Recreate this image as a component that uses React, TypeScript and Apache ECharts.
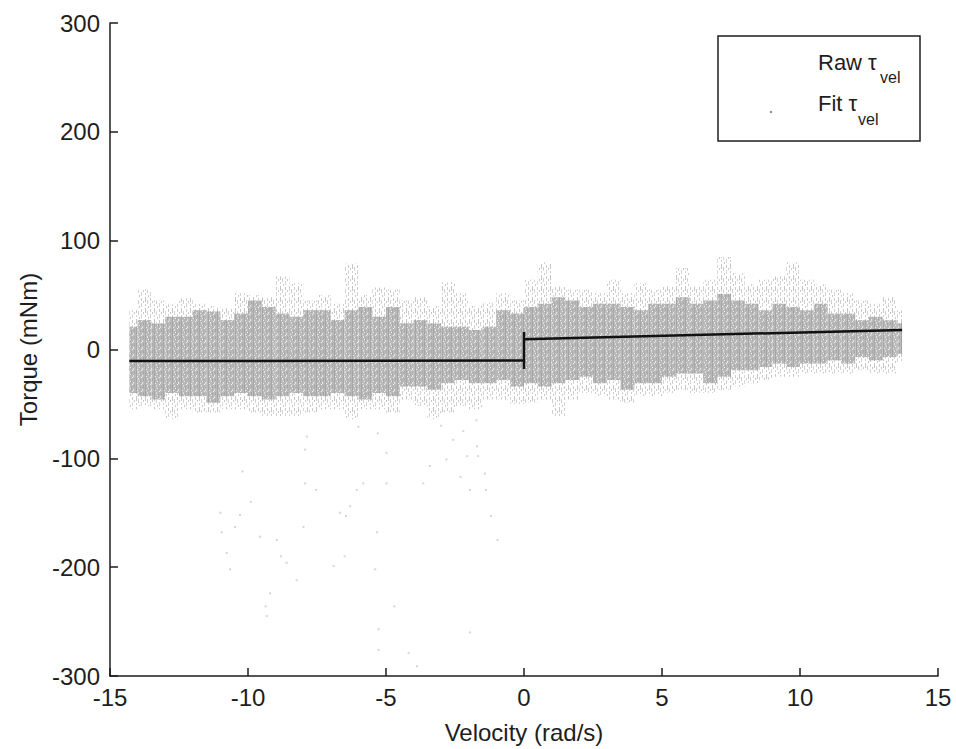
import React, { useEffect, useRef } from "react";
import * as echarts from "echarts";

// ---------- data ----------
const xTicks = [-15, 15, 5]; // min, max, interval
const yTicks = [-300, 300, 100];

// velocity bin edges of the raw-torque cloud (rad/s)
const leftEdges = [-14.3, -14, -13.5, -13, -12.5, -12, -11.5, -11, -10.5, -10, -9.5, -9, -8.5, -8, -7.5, -7, -6.5, -6, -5.5, -5, -4.5, -4, -3.5, -3, -2.5, -2, -1.5, -1, -0.5, 0];
const rightEdges = [0, 0.5, 1, 1.5, 2, 2.5, 3, 3.5, 4, 4.5, 5, 5.5, 6, 6.5, 7, 7.5, 8, 8.5, 9, 9.5, 10, 10.5, 11, 11.5, 12, 12.5, 13, 13.5, 13.7];

// raw torque cloud per bin (mNm): sparse low, dense low, dense high, sparse high
const leftEnvLo = [-55, -52, -55, -64, -55, -58, -58, -55, -55, -58, -61, -61, -61, -58, -55, -55, -64, -55, -55, -58, -46, -52, -64, -58, -52, -55, -46, -46, -50];
const leftCoreLo = [-40, -43, -46, -40, -43, -43, -49, -43, -40, -43, -46, -43, -40, -43, -43, -40, -43, -46, -40, -43, -34, -34, -37, -31, -28, -31, -31, -28, -34];
const leftCoreHi = [21, 27, 24, 30, 30, 36, 35, 27, 33, 45, 39, 33, 30, 36, 36, 27, 36, 39, 30, 39, 24, 27, 24, 21, 21, 18, 21, 36, 33];
const leftEnvHi = [36, 55, 45, 42, 47, 42, 40, 38, 52, 50, 48, 67, 61, 45, 50, 42, 79, 50, 57, 55, 45, 48, 40, 62, 52, 40, 43, 52, 45];

const rightEnvLo = [-49, -46, -61, -46, -40, -43, -46, -49, -43, -43, -40, -37, -40, -40, -37, -34, -31, -28, -25, -25, -22, -22, -22, -22, -19, -22, -22, -12];
const rightCoreLo = [-31, -34, -31, -28, -25, -31, -28, -37, -31, -31, -25, -22, -22, -31, -25, -19, -19, -16, -13, -16, -13, -13, -10, -13, -7, -10, -7, -4];
const rightCoreHi = [39, 42, 48, 45, 39, 42, 42, 39, 36, 42, 42, 48, 42, 45, 51, 45, 42, 36, 42, 39, 36, 42, 33, 33, 27, 30, 27, 24];
const rightEnvHi = [64, 80, 58, 55, 55, 52, 64, 52, 61, 55, 58, 75, 58, 64, 85, 70, 60, 64, 67, 80, 64, 60, 55, 52, 45, 42, 48, 36];

// scattered outliers below the cloud
const outlierVel = [-7.87, -7.93, -10.2, -10.29, -10.47, -10.95, -10.77, -10.65, -9.57, -8.96, -8.6, -8.8, -8.24, -9.2, -9.32, -9.36, -7.99, -6.9, -6.5, -6.45, -6.3, -6.06, -5.82, -5.33, -5.39, -4.98, -4.98, -5.3, -6.0, -3.65, -3.41, -2.81, -2.57, -1.72, -1.7, -1.66, -1.42, -1.38, -1.2, -0.96, -1.96, -2.06, -2.3, -5.27, -4.18, -3.88, -5.27, -7.93, -7.53, -6.67, -4.7, -1.96, -9.9, -11.0, -3.0, -2.2];
const outlierTorque = [-80, -92, -112, -152, -163, -168, -187, -202, -172, -175, -196, -190, -212, -224, -245, -236, -163, -199, -190, -153, -144, -129, -123, -168, -202, -123, -95, -77, -71, -123, -107, -101, -83, -65, -89, -98, -114, -129, -153, -175, -129, -98, -117, -276, -279, -291, -257, -123, -129, -150, -236, -260, -140, -150, -70, -75];

// fitted model
const fitVel = [-14.3, 0, 0, 0, 0, 13.7];
const fitTorque = [-10.6, -10.2, -18, 16, 9.5, 17.9];

const xTitle = "Velocity (rad/s)";
const yTitle = "Torque (mNm)";
const legendRaw = ["Raw τ", "vel"];
const legendFit = ["Fit τ", "vel"];

// ---------- styles ----------
const FONT = "'Liberation Sans', Arial, Helvetica, sans-serif";
const INK = "#1e1e1e";

const svgUrl = (s: string) => "data:image/svg+xml;charset=utf-8," + encodeURIComponent(s);
const corePattern = svgUrl(
  "<svg xmlns='http://www.w3.org/2000/svg' width='9' height='7'>" +
    "<rect width='9' height='7' fill='#b9b9b9'/>" +
    "<rect x='1' width='1' height='7' fill='#a6a6a6'/>" +
    "<rect x='3' y='0' width='1' height='2' fill='#dedede'/>" +
    "<rect x='4' y='3' width='1' height='1' fill='#f0f0f0'/>" +
    "<rect x='5' y='1' width='1' height='4' fill='#aaaaaa'/>" +
    "<rect x='7' y='4' width='1' height='2' fill='#e2e2e2'/>" +
    "<rect x='8' y='0' width='1' height='3' fill='#a8a8a8'/>" +
    "<rect x='2' y='5' width='1' height='1' fill='#ececec'/>" +
    "<rect x='6' y='6' width='1' height='1' fill='#f2f2f2'/>" +
    "</svg>"
);
const envPattern = svgUrl(
  "<svg xmlns='http://www.w3.org/2000/svg' width='9' height='11'>" +
    "<rect x='1' y='0' width='1' height='5' fill='#c6c6c6'/>" +
    "<rect x='1' y='7' width='1' height='2' fill='#cfcfcf'/>" +
    "<rect x='3' y='3' width='1' height='4' fill='#d0d0d0'/>" +
    "<rect x='4' y='9' width='1' height='2' fill='#c9c9c9'/>" +
    "<rect x='6' y='1' width='1' height='3' fill='#cbcbcb'/>" +
    "<rect x='6' y='6' width='1' height='4' fill='#d4d4d4'/>" +
    "<rect x='8' y='4' width='1' height='2' fill='#c8c8c8'/>" +
    "</svg>"
);

function buildBins() {
  const rows: number[][] = [];
  for (let i = 0; i < leftEdges.length - 1; i++) {
    rows.push([leftEdges[i], leftEdges[i + 1], leftEnvLo[i], leftCoreLo[i], leftCoreHi[i], leftEnvHi[i]]);
  }
  for (let i = 0; i < rightEdges.length - 1; i++) {
    rows.push([rightEdges[i], rightEdges[i + 1], rightEnvLo[i], rightCoreLo[i], rightCoreHi[i], rightEnvHi[i]]);
  }
  return rows;
}

export default function App() {
  const ref = useRef<HTMLDivElement>(null);

  useEffect(() => {
    if (!ref.current) return;
    const chart = echarts.init(ref.current, undefined, { renderer: "svg" });

    const bins = buildBins();
    const outliers = outlierVel.map((v, i) => [v, outlierTorque[i]]);
    const fit = fitVel.map((v, i) => [v, fitTorque[i]]);

    const axisCommon = {
      axisLine: { show: true, onZero: false, lineStyle: { color: INK, width: 1.5 } },
      axisTick: { show: true, inside: true, length: 8, lineStyle: { color: INK, width: 1.5 } },
      splitLine: { show: false },
      nameLocation: "middle" as const,
      nameTextStyle: { color: INK, fontSize: 24, fontFamily: FONT },
    };

    chart.setOption({
      animation: false,
      backgroundColor: "#ffffff",
      grid: { left: 110, right: 18, top: 23, bottom: 73, containLabel: false },
      xAxis: {
        type: "value",
        min: xTicks[0],
        max: xTicks[1],
        interval: xTicks[2],
        name: xTitle,
        nameGap: 44,
        ...axisCommon,
        axisLabel: { color: INK, fontSize: 24, fontFamily: FONT, margin: 9, showMinLabel: true, showMaxLabel: true },
      },
      yAxis: {
        type: "value",
        min: yTicks[0],
        max: yTicks[1],
        interval: yTicks[2],
        name: yTitle,
        nameGap: 70,
        ...axisCommon,
        axisLabel: { color: INK, fontSize: 24, fontFamily: FONT, margin: 10, showMinLabel: true, showMaxLabel: true },
      },
      series: [
        {
          type: "custom",
          name: "Raw",
          data: bins,
          encode: { x: [0, 1], y: [2, 5] },
          clip: true,
          renderItem: (params: any, api: any) => {
            const x0 = api.value(0);
            const x1 = api.value(1);
            const eLo = api.value(2);
            const cLo = api.value(3);
            const cHi = api.value(4);
            const eHi = api.value(5);
            const a = api.coord([x0, eHi]);
            const b = api.coord([x1, eLo]);
            const c = api.coord([x0, cHi]);
            const d = api.coord([x1, cLo]);
            return {
              type: "group",
              children: [
                {
                  type: "rect",
                  shape: { x: a[0], y: a[1], width: b[0] - a[0], height: b[1] - a[1] },
                  style: { fill: { image: envPattern, repeat: "repeat" } },
                },
                {
                  type: "rect",
                  shape: { x: c[0], y: c[1], width: d[0] - c[0], height: d[1] - c[1] },
                  style: { fill: { image: corePattern, repeat: "repeat" } },
                },
              ],
            };
          },
          z: 1,
        },
        {
          type: "scatter",
          name: "Raw outliers",
          data: outliers,
          symbol: "rect",
          symbolSize: 2,
          itemStyle: { color: "#cacaca" },
          z: 2,
        },
        {
          type: "line",
          name: "Fit",
          data: fit,
          showSymbol: false,
          symbol: "none",
          lineStyle: { color: "#111111", width: 2.5 },
          z: 3,
        },
      ],
      graphic: [
        {
          type: "rect",
          z: 100,
          shape: { x: 718, y: 36, width: 202, height: 105 },
          style: { fill: "#ffffff", stroke: INK, lineWidth: 1.5 },
        },
        {
          type: "text",
          z: 101,
          x: 818,
          y: 62,
          style: { text: legendRaw[0], fill: INK, fontSize: 22, fontFamily: FONT, verticalAlign: "middle", align: "left" },
        },
        {
          type: "text",
          z: 101,
          x: 880,
          y: 77,
          style: { text: legendRaw[1], fill: INK, fontSize: 16, fontFamily: FONT, verticalAlign: "middle", align: "left" },
        },
        {
          type: "text",
          z: 101,
          x: 818,
          y: 103,
          style: { text: legendFit[0], fill: INK, fontSize: 22, fontFamily: FONT, verticalAlign: "middle", align: "left" },
        },
        {
          type: "text",
          z: 101,
          x: 858,
          y: 119,
          style: { text: legendFit[1], fill: INK, fontSize: 16, fontFamily: FONT, verticalAlign: "middle", align: "left" },
        },
        {
          type: "circle",
          z: 101,
          shape: { cx: 771, cy: 112, r: 1.2 },
          style: { fill: "#8a8a8a" },
        },
      ],
    });

    return () => chart.dispose();
  }, []);

  return <div ref={ref} style={{ position: "absolute", left: 0, top: 0, width: 956, height: 749 }} />;
}
